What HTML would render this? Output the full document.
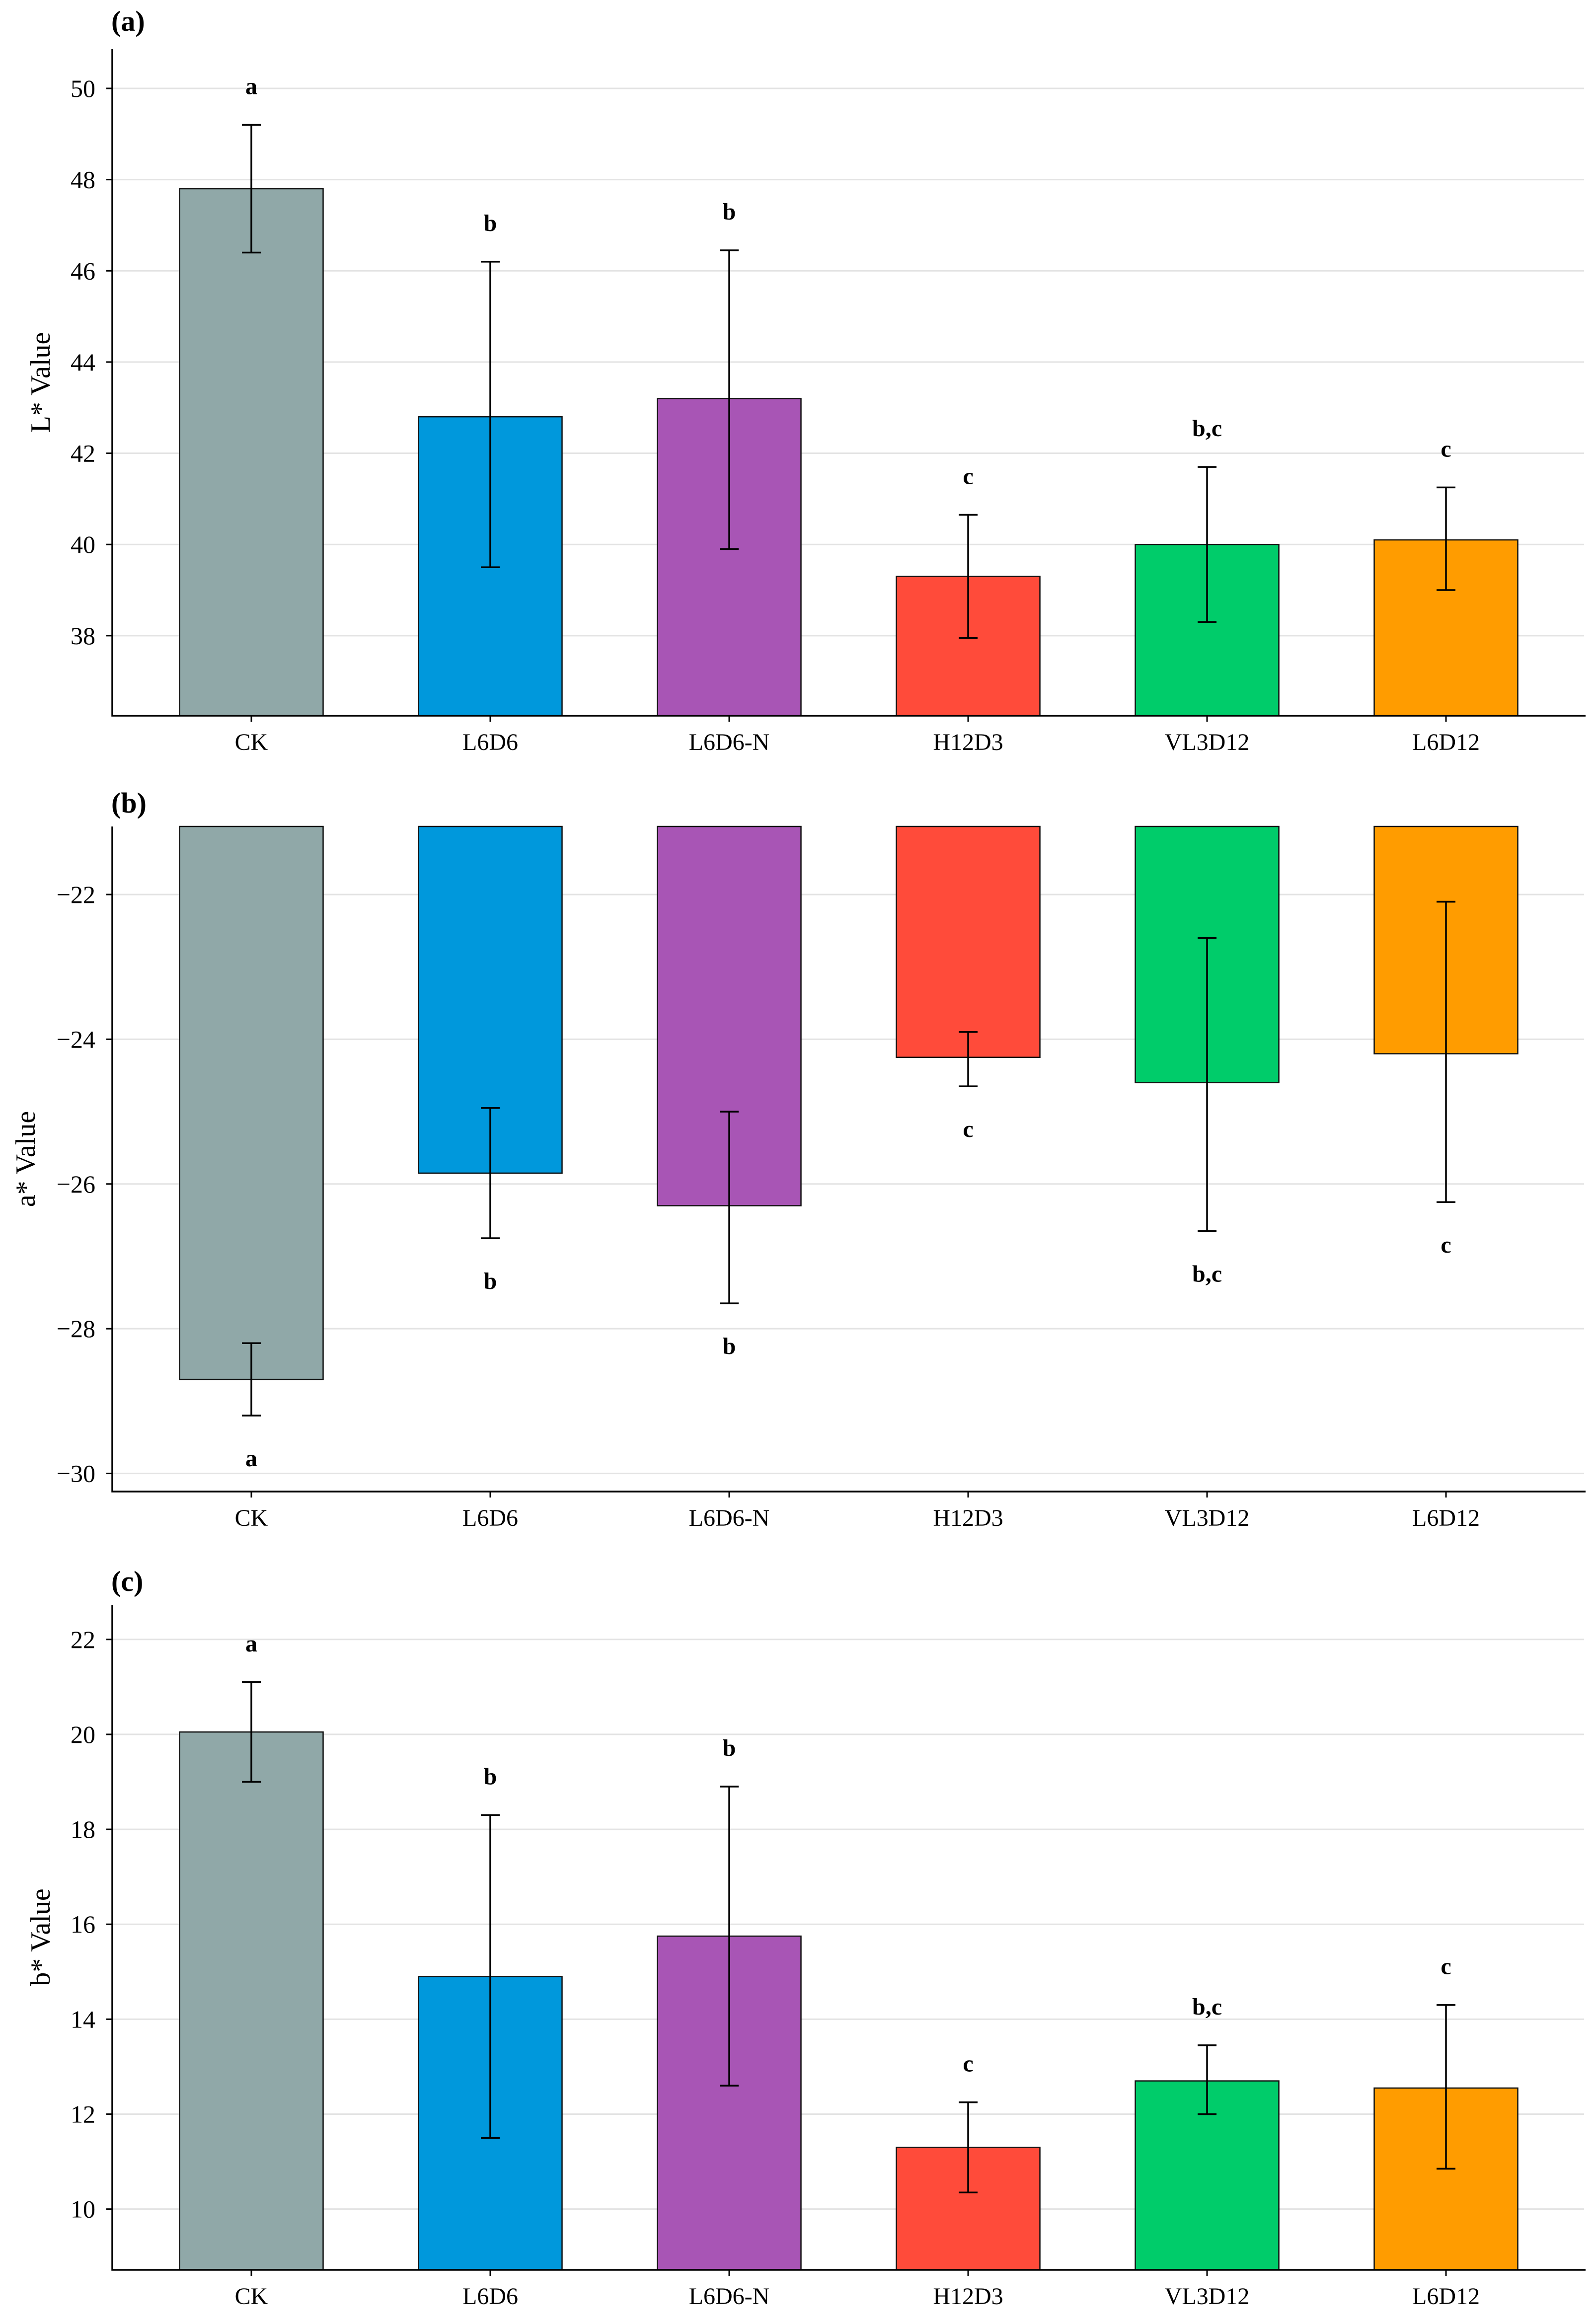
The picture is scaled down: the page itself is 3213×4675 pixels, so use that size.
<!DOCTYPE html>
<html><head><meta charset="utf-8"><style>
html,body{margin:0;padding:0;background:#fff;}
svg{display:block;font-family:"Liberation Serif",serif;}
</style></head><body>
<svg id="chart" width="3213" height="4675" viewBox="0 0 3213 4675" xmlns="http://www.w3.org/2000/svg"></svg>
<script>
const categories = ["CK","L6D6","L6D6-N","H12D3","VL3D12","L6D12"];
const colors = ["#90a8a8","#0098dc","#a855b5","#ff4b3a","#00cc6a","#ff9c00"];
const lValues = [47.8,42.8,43.2,39.3,40.0,40.1];
const lLow = [46.4,39.5,39.9,37.95,38.3,39.0];
const lHigh = [49.2,46.2,46.45,40.65,41.7,41.25];
const lLetters = ["a","b","b","c","b,c","c"];
const lTicks = [38,40,42,44,46,48,50];
const aValues = [-28.7,-25.85,-26.3,-24.25,-24.6,-24.2];
const aLow = [-29.2,-26.75,-27.65,-24.65,-26.65,-26.25];
const aHigh = [-28.2,-24.95,-25.0,-23.9,-22.6,-22.1];
const aLetters = ["a","b","b","c","b,c","c"];
const aTicks = [-30,-28,-26,-24,-22];
const bValues = [20.05,14.9,15.75,11.3,12.7,12.55];
const bLow = [19.0,11.5,12.6,10.35,12.0,10.85];
const bHigh = [21.1,18.3,18.9,12.25,13.45,14.3];
const bLetters = ["a","b","b","c","b,c","c"];
const bTicks = [10,12,14,16,18,20,22];

const NS="http://www.w3.org/2000/svg";
const svg=document.getElementById('chart');
function el(tag,attrs,parent,text){const e=document.createElementNS(NS,tag);for(const k in attrs)e.setAttribute(k,attrs[k]);if(text!==undefined)e.textContent=text;(parent||svg).appendChild(e);return e;}

function panel(cfg){
  const g=el('g',{});
  
  
  const L=226,R=3192,top=cfg.top,bot=cfg.bot;
  const y=v=>top+(cfg.ymax-v)/(cfg.ymax-cfg.ymin)*(bot-top);
  const x=i=>506+481*i;
  const bw=289;
  cfg.ticks.forEach(t=>{
    const gl=el('line',{x1:L,x2:3189,y1:y(t),y2:y(t),stroke:'#e3e3e3','stroke-width':3},g);
    
    
    el('line',{x1:L-12,x2:L,y1:y(t),y2:y(t),stroke:'#000','stroke-width':3},g);
    const tl=el('text',{x:192,y:y(t)+17,'text-anchor':'end','font-size':50},g,(t<0?'\u2212'+Math.abs(t):String(t)));
    
    
  });
  categories.forEach((c,i)=>{
    const v=cfg.values[i];
    const base=cfg.neg?top:bot;
    const yv=y(v);
    const r=el('rect',{x:x(i)-bw/2,y:Math.min(base,yv),width:bw,height:Math.abs(base-yv),fill:colors[i],stroke:'#111','stroke-width':2.5},g);
    
    
    const yl=y(cfg.low[i]),yh=y(cfg.high[i]);
    const eb=el('g',{stroke:'#000','stroke-width':3.5},g);
    
    
    el('line',{x1:x(i),x2:x(i),y1:yh,y2:yl},eb);
    el('line',{x1:x(i)-19,x2:x(i)+19,y1:yh,y2:yh},eb);
    el('line',{x1:x(i)-19,x2:x(i)+19,y1:yl,y2:yl},eb);
    const ly=cfg.neg?yl+102:yh-62;
    const lt=el('text',{x:x(i),y:ly,'text-anchor':'middle','font-size':48,'font-weight':'bold'},g,cfg.letters[i]);
    
    
    el('line',{x1:x(i),x2:x(i),y1:bot,y2:bot+12,stroke:'#000','stroke-width':3},g);
    const xl=el('text',{x:x(i),y:bot+69,'text-anchor':'middle','font-size':48},g,c);
    
    
  });
  const ax=el('path',{d:`M${L} ${top} V${bot} H${R}`,fill:'none',stroke:'#000','stroke-width':3.5},g);
  
  
  const cy=(top+bot)/2;
  const yt=el('text',{x:cfg.titleX,y:cy,'text-anchor':'middle','font-size':56,transform:`rotate(-90 ${cfg.titleX} ${cy})`},g,cfg.title);
  
  
  const pl=el('text',{x:224,y:cfg.labelY,'font-size':58,'font-weight':'bold'},g,cfg.label);
  
  
}
panel({name:'panel-a-l-value',top:99,bot:1441,ymin:36.245,ymax:50.86,ticks:lTicks,values:lValues,low:lLow,high:lHigh,letters:lLetters,neg:false,title:'L* Value',titleX:100,label:'(a)',labelY:62});
panel({name:'panel-b-a-value',top:1664,bot:3003,ymin:-30.25,ymax:-21.06,ticks:aTicks,values:aValues,low:aLow,high:aHigh,letters:aLetters,neg:true,title:'a* Value',titleX:70,label:'(b)',labelY:1636});
panel({name:'panel-c-b-value',top:3231,bot:4570,ymin:8.72,ymax:22.73,ticks:bTicks,values:bValues,low:bLow,high:bHigh,letters:bLetters,neg:false,title:'b* Value',titleX:100,label:'(c)',labelY:3203});
</script>
</body></html>
